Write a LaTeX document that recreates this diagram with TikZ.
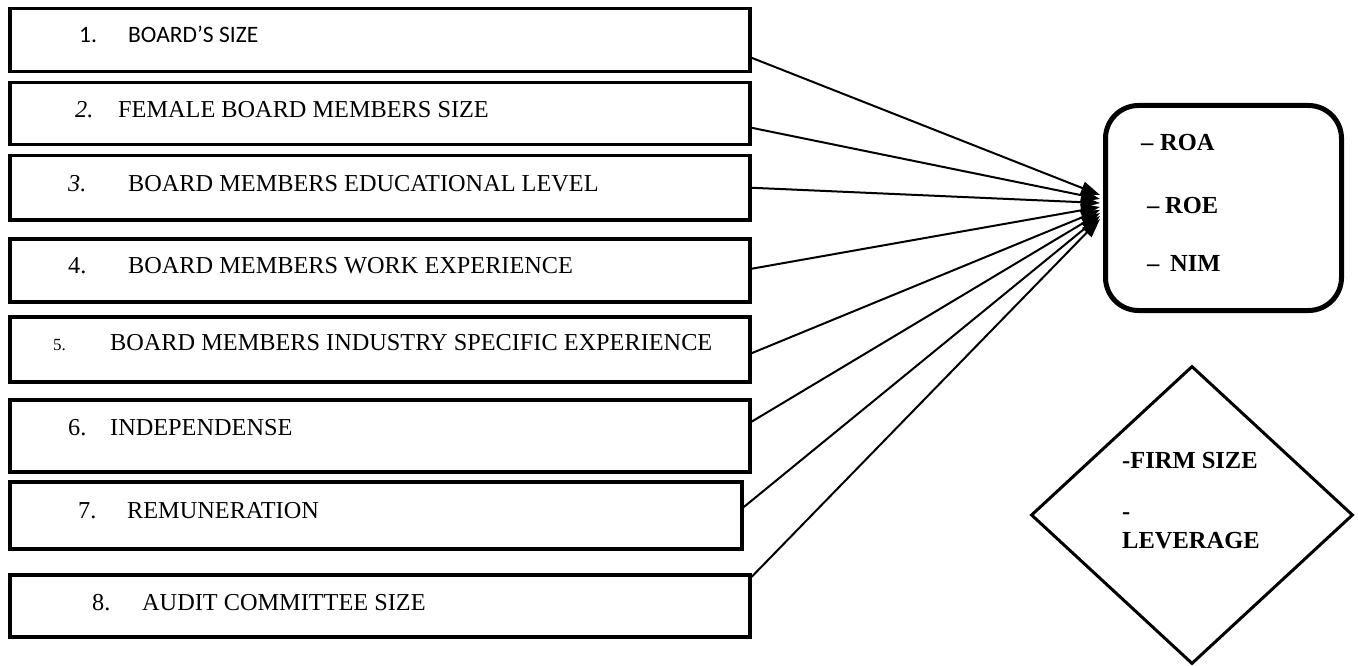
\documentclass[tikz,border=0pt]{standalone}
\usepackage{fontspec}
\setmainfont{Liberation Serif}
\newfontfamily\calibrifont{Carlito}
\usetikzlibrary{arrows.meta,shapes.geometric,calc}

\begin{document}
\begin{tikzpicture}[x=1pt,y=-1pt,
  inbox/.style={draw, line width=3.5pt, anchor=north west, inner sep=0pt, minimum width=740pt},
  lbl/.style={anchor=base west, inner sep=0pt, font=\fontsize{24.3}{29}\selectfont},
  bl/.style={anchor=base west, inner sep=0pt, font=\fontsize{24.5}{29}\selectfont\bfseries},
  link/.style={line width=2pt, -{Triangle[length=19pt,width=13pt]}}]
\useasboundingbox (0,0) rectangle (1358,666);

% board characteristics (independent variables)
\node[inbox, minimum height=63pt] (b1) at (8,7) {};
\node[inbox, minimum height=62pt] (b2) at (8,81) {};
\node[inbox, minimum height=64pt] (b3) at (8,154) {};
\node[inbox, minimum height=63pt] (b4) at (8,237) {};
\node[inbox, minimum height=65pt] (b5) at (8,315) {};
\node[inbox, minimum height=72pt] (b6) at (8,398) {};
\node[inbox, minimum height=67pt, minimum width=732pt] (b7) at (8,480) {};
\node[inbox, minimum height=62pt] (b8) at (8,573) {};

\node[anchor=base west, inner sep=0pt, font=\calibrifont\fontsize{23.5}{28}\selectfont] (t1) at (79,43) {\makebox[49pt][l]{1.}BOARD’S SIZE};
\node[lbl] (t2) at (75,118) {\makebox[43pt][l]{\itshape 2.}FEMALE BOARD MEMBERS SIZE};
\node[lbl] (t3) at (68,191) {\makebox[60pt][l]{\itshape 3.}BOARD MEMBERS EDUCATIONAL LEVEL};
\node[lbl] (t4) at (68,273) {\makebox[60pt][l]{4.}BOARD MEMBERS WORK EXPERIENCE};
\node[lbl] (t5) at (53,350) {\makebox[57pt][l]{\fontsize{17}{20}\selectfont 5.}BOARD MEMBERS INDUSTRY SPECIFIC EXPERIENCE};
\node[lbl] (t6) at (68,435) {\makebox[42pt][l]{6.}INDEPENDENSE};
\node[lbl] (t7) at (78,518) {\makebox[49pt][l]{7.}REMUNERATION};
\node[lbl] (t8) at (92,610) {\makebox[50pt][l]{8.}AUDIT COMMITTEE SIZE};

% performance measures (dependent variables)
\node[draw, rounded corners=33pt, line width=5pt, anchor=north west, inner sep=0pt,
      minimum width=236pt, minimum height=205pt] (out) at (1103,103) {};
\node[bl] (r1) at (1141,150) {\makebox[19pt][l]{–}ROA};
\node[bl] (r2) at (1147,213) {\makebox[18pt][l]{–}ROE};
\node[bl] (r3) at (1147,271) {\makebox[23pt][l]{–}NIM};

% control variables
\node[draw, diamond, line width=3pt, inner sep=0pt,
      minimum width=322pt, minimum height=298pt] (ctl) at (1192,515) {};
\node[bl] (c1) at (1122,468) {-FIRM SIZE};
\node[bl] (c2) at (1122,519) {-};
\node[bl] (c3) at (1122,548) {LEVERAGE};

% links to the performance box
\draw[link] ($(b1.east)+(0,17.5)$) -- ($(out.west)+(-3,-13)$);
\draw[link] ($(b2.east)+(0,14)$)   -- ($(out.west)+(-3,-9)$);
\draw[link] ($(b3.east)+(0,0)$)    -- ($(out.west)+(-3,-5)$);
\draw[link] ($(b4.east)+(0,-1.5)$) -- ($(out.west)+(-3,-1)$);
\draw[link] ($(b5.east)+(0,4)$)    -- ($(out.west)+(-3,2)$);
\draw[link] ($(b6.east)+(0,-14)$)  -- ($(out.west)+(-3,5)$);
\draw[link] ($(b7.east)+(0,-8)$)   -- ($(out.west)+(-3,8)$);
\draw[link] ($(b8.north east)+(0,4)$) -- ($(out.west)+(-3,11)$);
\end{tikzpicture}
\end{document}
